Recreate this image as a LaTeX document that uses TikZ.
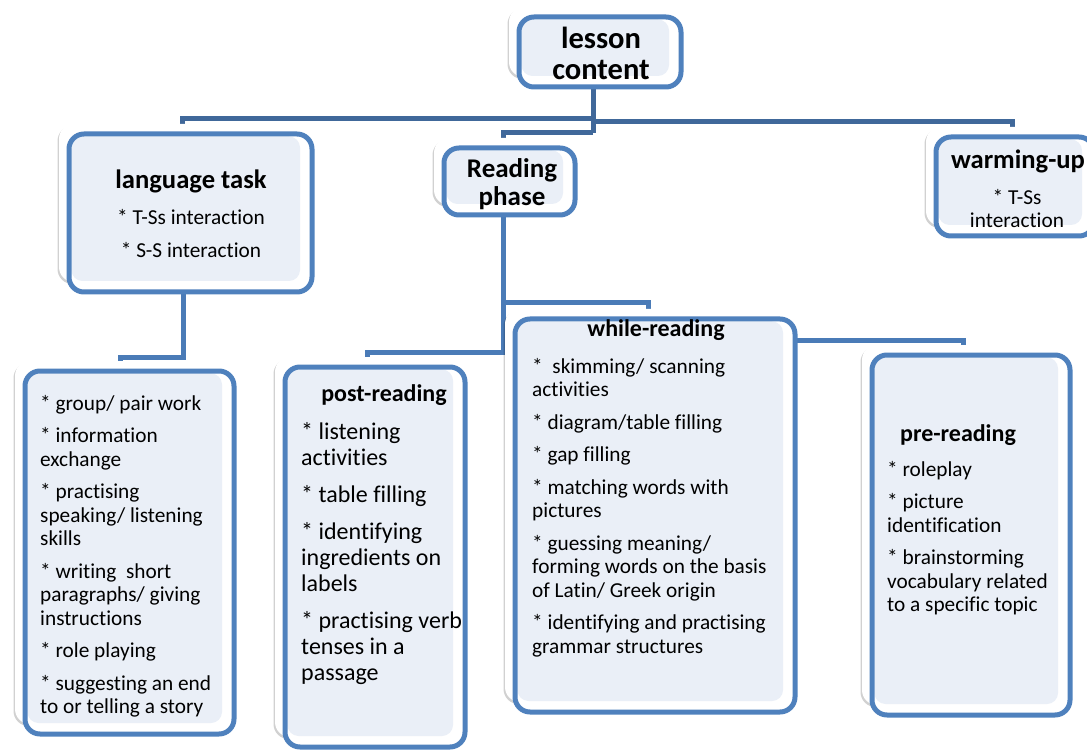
\documentclass[tikz,border=0pt]{standalone}
\usepackage{fontspec}
\setmainfont{Carlito}[Ligatures=NoCommon]
\usetikzlibrary{shadows,positioning}
\definecolor{frameblue}{RGB}{79,129,189}
\definecolor{panelblue}{RGB}{234,239,247}
\definecolor{linkblue}{RGB}{74,123,183}
\definecolor{trunkblue}{RGB}{64,104,154}
\pgfdeclarelayer{links}
\pgfdeclarelayer{under}
\pgfsetlayers{links,under,main}
\newcommand\gap{\\[9pt]}
\tikzset{
  frame/.style={draw=frameblue, line width=5pt, rounded corners=15pt,
    outer sep=0pt, inner sep=0pt, fill=white,
    path picture={\fill[panelblue, rounded corners=11pt]
      ([shift={(2.5pt,-2.5pt)}]path picture bounding box.north west) rectangle
      ([shift={(-12pt,11pt)}]path picture bounding box.south east);}},
  underlay/.style={fill=white, rounded corners=15pt,
    drop shadow={shadow xshift=-1.5pt, shadow yshift=-2pt, fill=black, opacity=.18}},
  link/.style={draw=linkblue, line width=5pt},
  toplink/.style={draw=trunkblue, line width=5pt},
  head/.style={font=\fontsize{24}{28}\selectfont\bfseries, inner sep=0pt, anchor=base},
  headblock/.style={inner sep=0pt, align=center, anchor=center},
  body/.style={font=\fontsize{21.3}{23.5}\selectfont, align=left, inner sep=0pt, anchor=north west},
}
\begin{document}
\begin{tikzpicture}[x=1pt,y=-1pt]
\clip (0,0) rectangle (1087,751);
% frames
\node[frame, minimum width=162, minimum height=70] (lesson) at (600,52) {};
\node[frame, minimum width=243, minimum height=158] (langtask) at (190.5,213) {};
\node[frame, minimum width=131, minimum height=67] (reading) at (509.5,181.5) {};
\node[frame, minimum width=158, minimum height=99] (warm) at (1015,186.5) {};
\node[frame, minimum width=209, minimum height=363] (skills) at (129.5,552.5) {};
\node[frame, minimum width=180, minimum height=380] (post) at (375,557) {};
\node[frame, minimum width=280, minimum height=393] (while) at (655,515.5) {};
\node[frame, minimum width=198, minimum height=360] (pre) at (971,535) {};
% texts
\node[headblock, font=\fontsize{30.5}{31}\selectfont\bfseries] (lessonhead) at (601,53) {lesson\\content};
\node[headblock, font=\fontsize{27}{28}\selectfont\bfseries] (readinghead) at (512,184) {Reading\\phase};
\node[head, font=\fontsize{26.6}{28}\selectfont\bfseries] (langhead) at (191,189) {language task};
\node[body, align=center, anchor=north, font=\fontsize{21.3}{33}\selectfont] (langbody) at (191,209)
  {* T-Ss interaction\\* S-S interaction};
\node[head, font=\fontsize{26.6}{28}\selectfont\bfseries] (warmhead) at (1018,169) {warming-up};
\node[body, align=center, anchor=north] (warmbody) at (1017,189) {* T-Ss\\interaction};
\node[body] (skillsbody) at (40,395) {* group/ pair work\gap
  * information\\exchange\gap
  * practising\\speaking/ listening\\skills\gap
  * writing~ short\\paragraphs/ giving\\instructions\gap
  * role playing\gap
  * suggesting an end\\to or telling a story};
\node[head] (posthead) at (384,401) {post-reading};
\node[body, font=\fontsize{24}{26}\selectfont] (postbody) at (301,422) {* listening\\activities\\[11pt]
  * table filling\\[11pt]
  * identifying\\ingredients on\\labels\\[11pt]
  * practising verb\\tenses in a\\passage};
\node[head] (whilehead) at (656,337) {while-reading};
\node[body] (whilebody) at (532,358) {*~ skimming/ scanning\\activities\gap
  * diagram/table filling\gap
  * gap filling\gap
  * matching words with\\pictures\gap
  * guessing meaning/\\forming words on the basis\\of Latin/ Greek origin\gap
  * identifying and practising\\grammar structures};
\node[head] (prehead) at (958,441) {pre-reading};
\node[body] (prebody) at (887,461) {* roleplay\gap
  * picture\\identification\gap
  * brainstorming\\vocabulary related\\to a specific topic};
% white cards behind the frames
\begin{pgfonlayer}{under}
\foreach \fr in {lesson,langtask,reading,warm,skills,post,while,pre}
  \path[underlay] ([shift={(-10,-10)}]\fr.north west) rectangle ([shift={(-10,-10)}]\fr.south east);
\end{pgfonlayer}
% connectors
\begin{pgfonlayer}{links}
\coordinate (hubL) at (593,119);
\coordinate (hubR) at (593,122);
\coordinate (hubM) at (593,133);
\draw[toplink] ([xshift=-7pt]lesson.south) -- (hubM);
\draw[toplink] (hubL) -| ([xshift=-8.5pt]langtask.north);
\draw[toplink] (hubR) -| ([xshift=-3pt]warm.north);
\draw[toplink] (hubM) -| ([xshift=-6.5pt]reading.north);
\coordinate (kneeS) at (120,357);
\coordinate (kneeP) at (367,352);
\coordinate (kneeW) at (648,303);
\coordinate (kneeR) at (963,340);
\draw[link] ([xshift=-7.5pt]langtask.south) |- (kneeS) -- (kneeS |- skills.north);
\draw[link] ([xshift=-6.5pt]reading.south) |- (kneeP) -- (kneeP |- post.north);
\draw[link] ([xshift=-6.5pt]reading.south) |- (kneeW) -- (kneeW |- while.north);
\draw[link] ([xshift=-6.5pt]reading.south) |- (kneeR) -- (kneeR |- pre.north);
\end{pgfonlayer}
\end{tikzpicture}
\end{document}
